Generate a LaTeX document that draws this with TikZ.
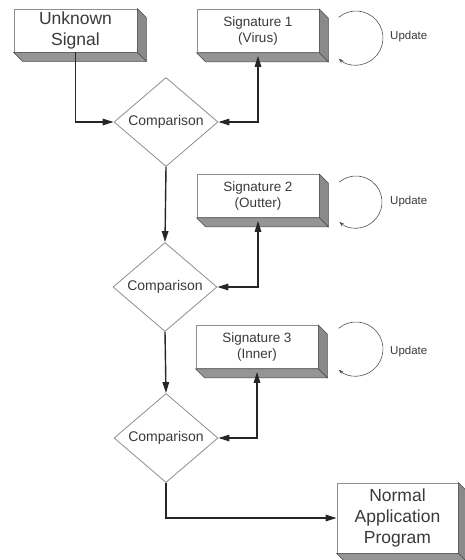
\documentclass[tikz,border=0pt]{standalone}
\usepackage{fontspec}
\setmainfont{Liberation Sans}
\usetikzlibrary{shapes.geometric,arrows.meta,calc}

\definecolor{inkline}{HTML}{262626}
\definecolor{inktext}{HTML}{3A3A3A}
\definecolor{faceedge}{HTML}{8E8E8E}
\definecolor{sidefill}{HTML}{8A8A8A}
\definecolor{bottomfill}{HTML}{959595}
\definecolor{sideedge}{HTML}{4A4A4A}

% extruded sides of a slab whose front face is node #1
\newcommand{\slabsides}[1]{%
  \path[fill=sidefill, draw=sideedge, line width=0.6pt]
    (#1.north east) -- ++(9,9) -- ($(#1.south east)+(9,9)$) -- (#1.south east) -- cycle;
  \path[fill=bottomfill, draw=sideedge, line width=0.6pt]
    (#1.south west) -- (#1.south east) -- ($(#1.south east)+(9,9)$) -- ($(#1.south west)+(9,9)$) -- cycle;
}

\tikzset{
  slab/.style={draw=faceedge, fill=white, line width=0.8pt, align=center,
    text=inktext, inner sep=0pt},
  bigslab/.style={slab, font=\fontsize{17.5}{21}\selectfont},
  sigslab/.style={slab, font=\fontsize{13.5}{16}\selectfont,
    minimum width=122pt, minimum height=43pt},
  compare/.style={diamond, draw=faceedge, line width=0.8pt, text=inktext,
    inner sep=0pt, minimum width=104pt, minimum height=89pt,
    font=\fontsize{14}{16}\selectfont},
  flow/.style={draw=inkline, line width=1.4pt,
    -{Triangle[length=11pt,width=6.5pt]}},
  twoway/.style={draw=inkline, line width=1.4pt,
    {Triangle[length=11pt,width=6.5pt]}-{Triangle[length=11pt,width=6.5pt]}},
  refresh/.style={draw=inkline!80, line width=0.6pt,
    -{Stealth[length=5pt,width=3.5pt]}},
  refreshtext/.style={anchor=west, text=inktext, inner sep=0pt,
    font=\fontsize{11.5}{13}\selectfont},
}

\begin{document}
\begin{tikzpicture}[x=1pt, y=-1pt]
  \useasboundingbox (0,0) rectangle (465,560);

  % front faces
  \node[bigslab, minimum width=123pt, minimum height=43pt] (us) at (75.5,30.5) {Unknown\\Signal};
  \node[sigslab] (s1) at (258,31) {Signature 1\\(Virus)};
  \node[sigslab] (s2) at (258,196) {Signature 2\\(Outter)};
  \node[sigslab] (s3) at (257,347) {Signature 3\\(Inner)};
  \node[bigslab, minimum width=121pt, minimum height=70pt] (na) at (397.5,518) {Normal\\Application\\Program};

  \slabsides{us}
  \slabsides{s1}
  \slabsides{s2}
  \slabsides{s3}
  \slabsides{na}

  % comparison stages
  \node[compare] (c1) at (166,122) {Comparison\hspace{10pt}};
  \node[compare] (c2) at (165,287) {Comparison\hspace{10pt}};
  \node[compare] (c3) at (166,438) {Comparison\hspace{10pt}};

  % flow
  \draw[flow] (us.south) |- (c1.west);
  \draw[twoway, shorten >=3pt] (c1.east) -| (s1.south);
  \draw[flow] (c1.south) -- (c2.north);
  \draw[twoway, shorten >=3pt] (c2.east) -| (s2.south);
  \draw[flow] (c2.south) -- (c3.north);
  \draw[twoway, shorten >=3pt] (c3.east) -| (s3.south);
  \draw[flow] (c3.south) |- (na.west);

  % update loops
  \coordinate (u1) at (356,38);
  \coordinate (u2) at (356,202);
  \coordinate (u3) at (356,349);
  \draw[refresh] ([shift={(-130:27)}]u1) arc[start angle=-130, end angle=130, radius=27];
  \draw[refresh] ([shift={(-130:26)}]u2) arc[start angle=-130, end angle=130, radius=26];
  \draw[refresh] ([shift={(-130:27)}]u3) arc[start angle=-130, end angle=130, radius=27];
  \node[refreshtext] (t1) at (390,37) {Update};
  \node[refreshtext] (t2) at (390,202) {Update};
  \node[refreshtext] (t3) at (390,352) {Update};
\end{tikzpicture}
\end{document}
